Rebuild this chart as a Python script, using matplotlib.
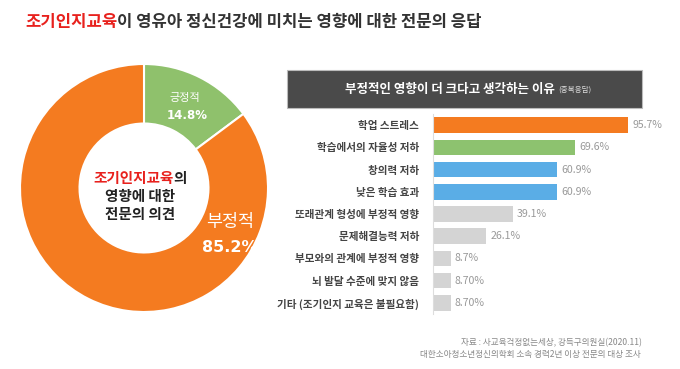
import matplotlib.pyplot as plt
from matplotlib.patches import Rectangle

plt.rcParams['font.family'] = ['Noto Sans CJK KR', 'DejaVu Sans']

# donut data
pie_labels = ['긍정적', '부정적']
pie_values = [14.8, 85.2]
pie_colors = ['#8fc16c', '#f47b20']

# bar data
reasons = ['학업 스트레스', '학습에서의 자율성 저하', '창의력 저하', '낮은 학습 효과',
           '또래관계 형성에 부정적 영향', '문제해결능력 저하', '부모와의 관계에 부정적 영향',
           '뇌 발달 수준에 맞지 않음', '기타 (조기인지 교육은 불필요함)']
reason_values = [95.7, 69.6, 60.9, 60.9, 39.1, 26.1, 8.7, 8.7, 8.7]
reason_labels = ['95.7%', '69.6%', '60.9%', '60.9%', '39.1%', '26.1%', '8.7%', '8.70%', '8.70%']
bar_colors = ['#f47b20', '#8dc26f', '#5aade6', '#5aade6',
              '#d4d4d4', '#d4d4d4', '#d4d4d4', '#d4d4d4', '#d4d4d4']

W, H = 680, 369
fig = plt.figure(figsize=(6.8, 3.69), dpi=100)
fig.patch.set_facecolor('white')


def fx(px):
    return px / W


def fy(py):
    return 1 - py / H


def place_pair(x, y, s1, c1, s2, c2, size, weight='bold', center=False):
    # two coloured strings side by side
    t1 = fig.text(x, y, s1, color=c1, fontsize=size, fontweight=weight, va='center', ha='left')
    fig.canvas.draw()
    r = fig.canvas.get_renderer()
    w1 = t1.get_window_extent(r).width / W
    t2 = fig.text(x + w1, y, s2, color=c2, fontsize=size, fontweight=weight, va='center', ha='left')
    if center:
        fig.canvas.draw()
        w2 = t2.get_window_extent(r).width / W
        shift = (w1 + w2) / 2
        t1.set_x(x - shift)
        t2.set_x(x - shift + w1)
    return t1, t2


# title
place_pair(fx(25), fy(22), '조기인지교육', '#e8211d',
           '이 영유아 정신건강에 미치는 영향에 대한 전문의 응답', '#333333', 12)

# donut
cx, cy, rad = 144, 188, 124
ax_pie = fig.add_axes([fx(cx - rad), fy(cy + rad), fx(2 * rad), 2 * rad / H])
ax_pie.pie(pie_values, colors=pie_colors, startangle=90, counterclock=False,
           wedgeprops=dict(width=0.48, edgecolor='white', linewidth=1.5))
ax_pie.set_xlim(-1, 1)
ax_pie.set_ylim(-1, 1)
ax_pie.axis('off')

fig.text(fx(185), fy(98), pie_labels[0], color='white', fontsize=8, ha='center', va='center')
fig.text(fx(187), fy(116), '{}%'.format(pie_values[0]), color='white', fontsize=8.5,
         fontweight='bold', ha='center', va='center', family='DejaVu Sans')
fig.text(fx(230), fy(222), pie_labels[1], color='white', fontsize=12.5, ha='center', va='center')
fig.text(fx(230), fy(248), '{}%'.format(pie_values[1]), color='white', fontsize=11.5,
         fontweight='bold', ha='center', va='center', family='DejaVu Sans')

place_pair(fx(140), fy(178), '조기인지교육', '#e8211d', '의', '#222222', 10.5, center=True)
fig.text(fx(140), fy(196), '영향에 대한', color='#222222', fontsize=10.5, fontweight='bold',
         ha='center', va='center')
fig.text(fx(140), fy(214), '전문의 의견', color='#222222', fontsize=10.5, fontweight='bold',
         ha='center', va='center')

# header box
fig.patches.append(Rectangle((fx(287), fy(108)), fx(355), 38 / H, transform=fig.transFigure,
                             facecolor='#4a4a4a', edgecolor='#bbbbbb', linewidth=0.8))
hdr = fig.text(fx(345), fy(89), '부정적인 영향이 더 크다고 생각하는 이유', color='white',
               fontsize=9, fontweight='bold', ha='left', va='center')
fig.canvas.draw()
hx = fx(hdr.get_window_extent(fig.canvas.get_renderer()).x1 + 3)
fig.text(hx, fy(90), '(중복응답)', color='#dddddd', fontsize=5.5, ha='left', va='center')

# bars
ax = fig.add_axes([fx(433), fy(314), 204 / W, 200 / H])
y = list(range(len(reasons)))
ax.barh(y, reason_values, height=0.7, color=bar_colors)
ax.set_xlim(0, 100)
ax.set_ylim(len(reasons) - 0.5, -0.5)
ax.set_yticks(y)
ax.set_yticklabels(reasons, fontsize=7.6, color='#444444', fontweight='bold')
ax.tick_params(axis='y', length=0, pad=10)
ax.set_xticks([])
for s in ['top', 'right', 'bottom']:
    ax.spines[s].set_visible(False)
ax.spines['left'].set_color('#dddddd')
ax.spines['left'].set_linewidth(0.8)
for yi, v, lab in zip(y, reason_values, reason_labels):
    ax.text(v + 2, yi, lab, fontsize=7.6, color='#999999', va='center', ha='left',
            clip_on=False)

# source
fig.text(fx(642), fy(343), '자료 : 사교육걱정없는세상, 강득구의원실(2020.11)', color='#888888',
         fontsize=6.2, ha='right', va='center')
fig.text(fx(641), fy(354), '대한소아청소년정신의학회 소속 경력2년 이상 전문의 대상 조사',
         color='#888888', fontsize=6.2, ha='right', va='center')

fig.savefig('out.png', dpi=100)
